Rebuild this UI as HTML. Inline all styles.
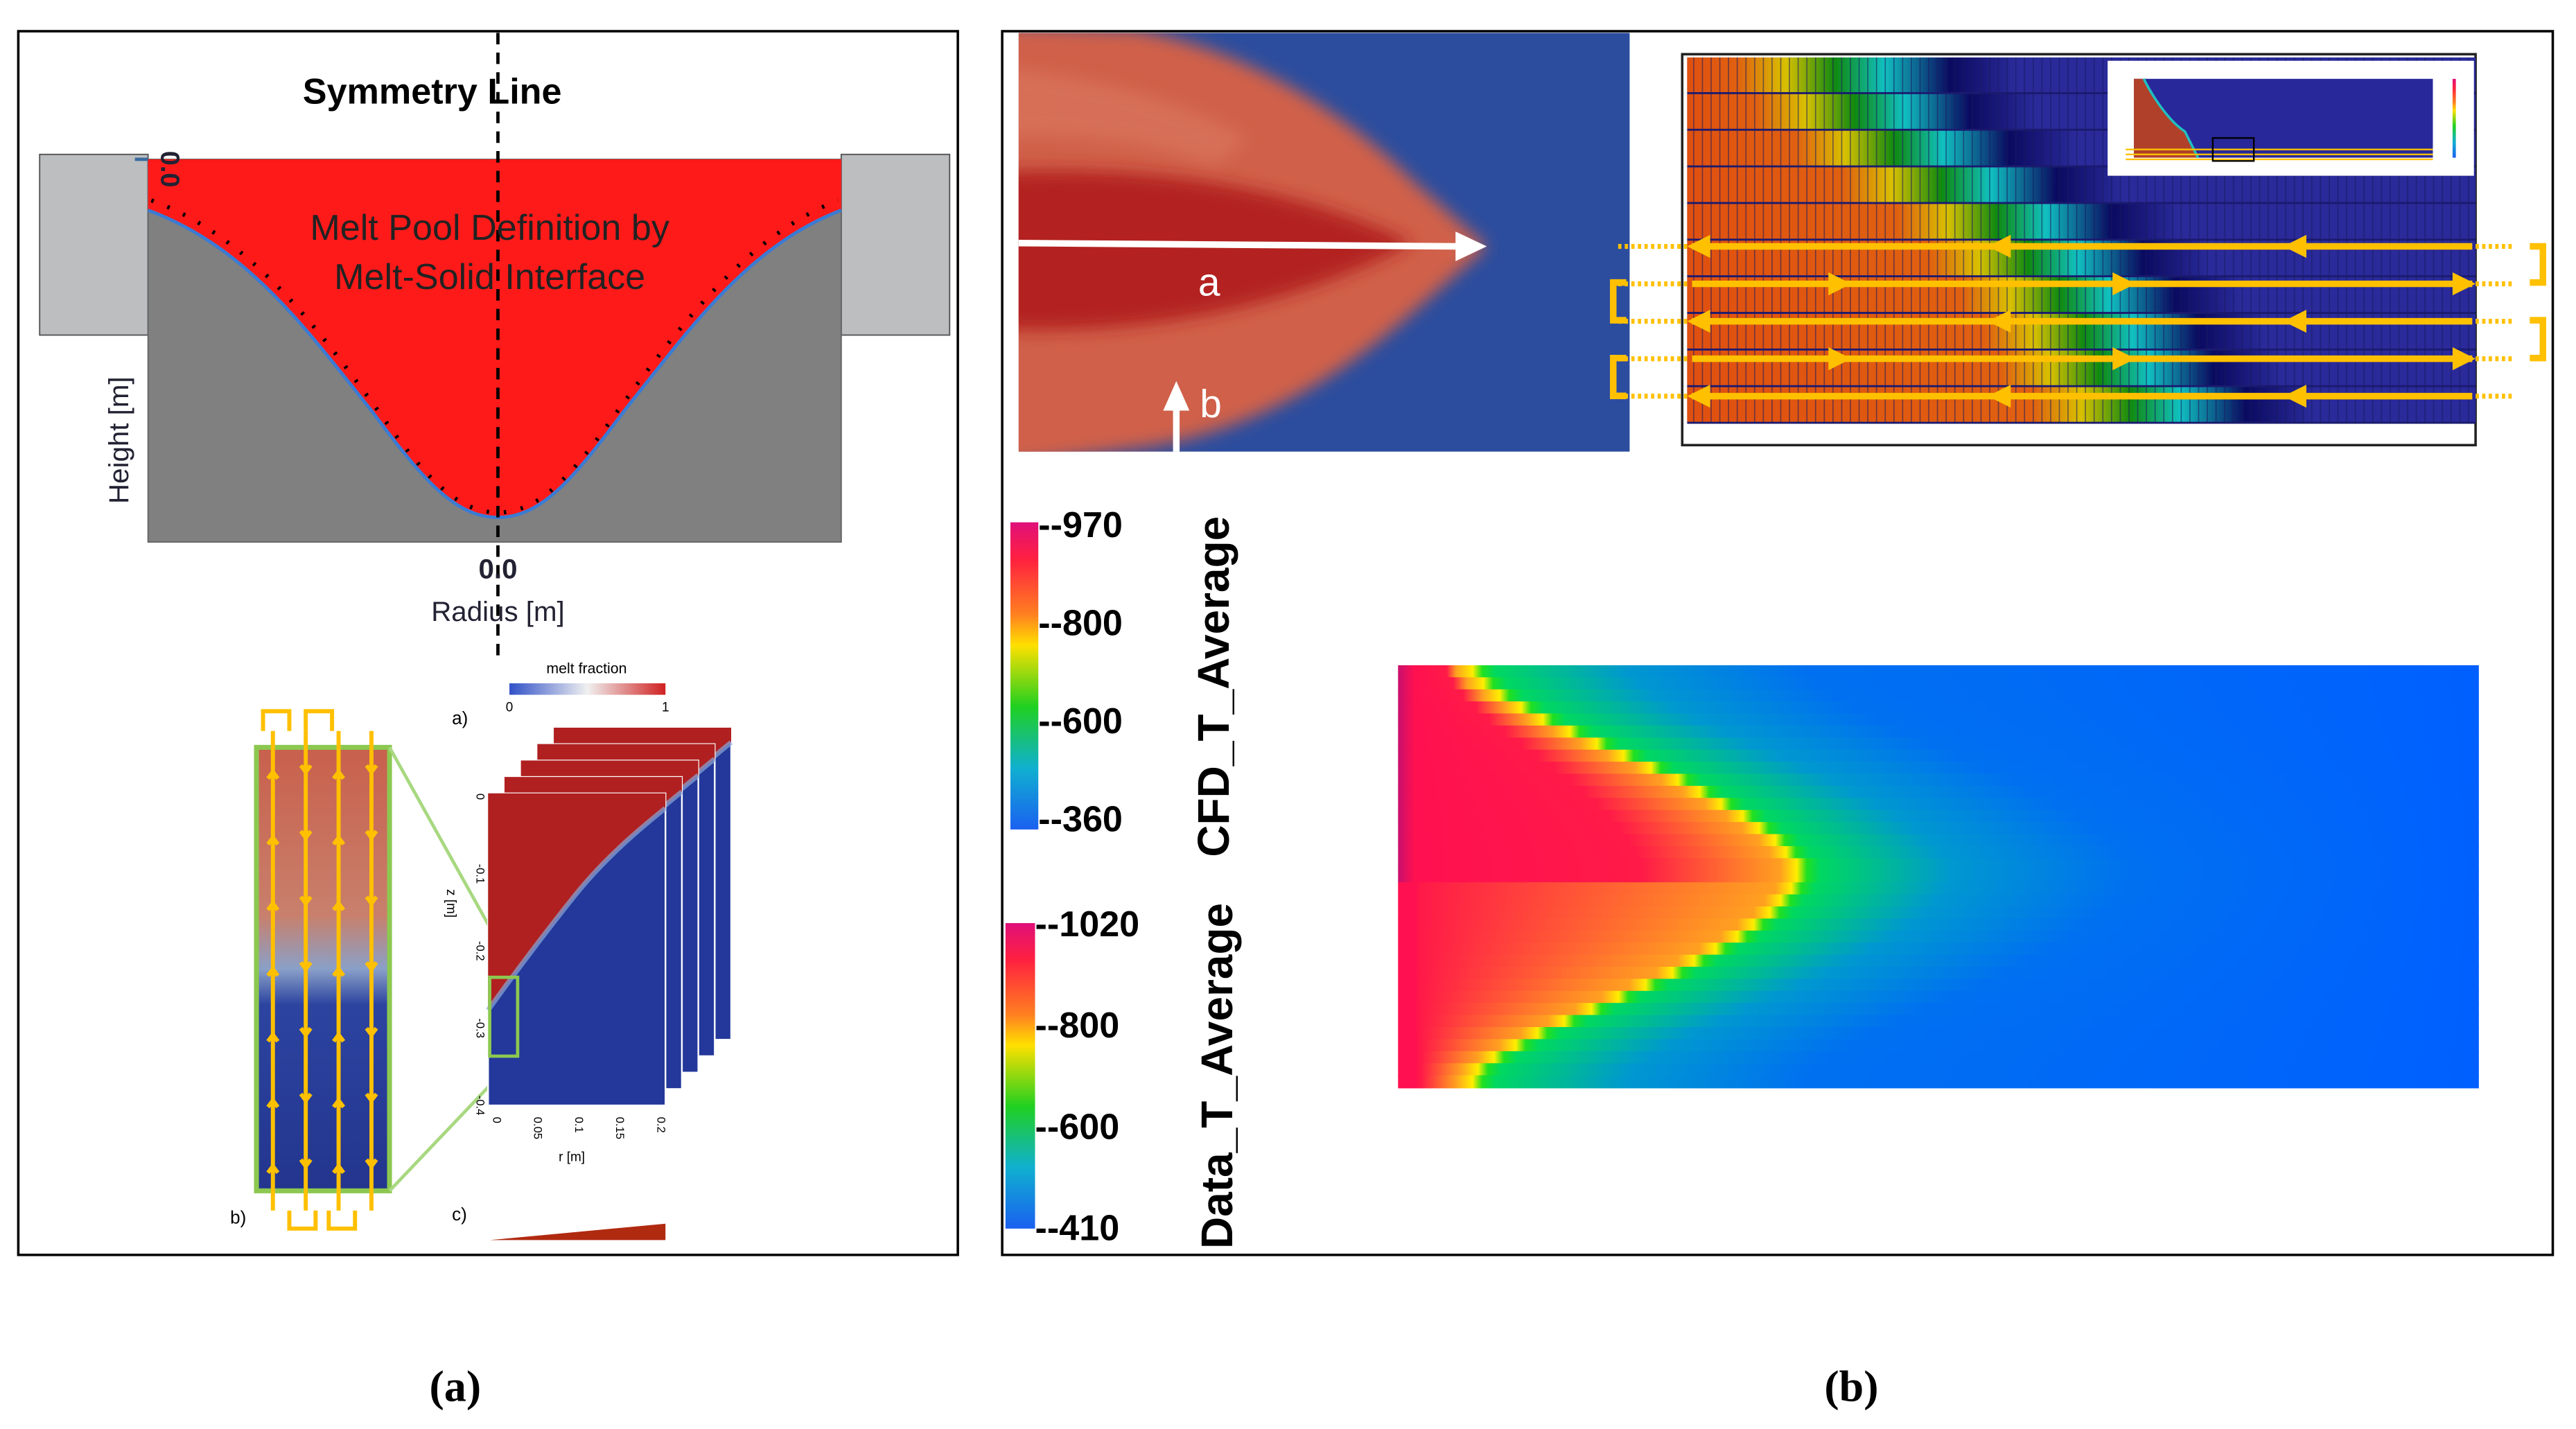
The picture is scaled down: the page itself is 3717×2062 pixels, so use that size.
<!DOCTYPE html>
<html><head><meta charset="utf-8">
<style>
html,body{margin:0;padding:0;background:#fff;}
svg{display:block;}
</style></head>
<body>
<svg id="fig" width="3717" height="2062" viewBox="0 0 1568 870" xmlns="http://www.w3.org/2000/svg" font-family="Liberation Sans, sans-serif">
<defs>
  <filter id="blur6" x="-20%" y="-20%" width="140%" height="140%"><feGaussianBlur stdDeviation="5"/></filter>
  <filter id="blur3"><feGaussianBlur stdDeviation="3"/></filter>
  <linearGradient id="cbar" x1="0" y1="0" x2="0" y2="1">
    <stop offset="0" stop-color="#e0107a"/><stop offset="0.12" stop-color="#ff2040"/>
    <stop offset="0.3" stop-color="#ff8020"/><stop offset="0.4" stop-color="#ffe000"/>
    <stop offset="0.6" stop-color="#20d020"/><stop offset="0.8" stop-color="#10b0d0"/>
    <stop offset="1" stop-color="#1a60f0"/>
  </linearGradient>
  <linearGradient id="strip" x1="0" y1="0" x2="0" y2="1">
    <stop offset="0" stop-color="#c8604c"/><stop offset="0.38" stop-color="#c8806c"/>
    <stop offset="0.5" stop-color="#8aa0c8"/><stop offset="0.58" stop-color="#2c44a0"/>
    <stop offset="1" stop-color="#23358e"/>
  </linearGradient>
</defs>

<!-- PANEL A -->
<g>
  <rect x="11" y="19" width="572" height="745" fill="#fff" stroke="#000" stroke-width="1.5"/>
  <rect x="24" y="94" width="66" height="110" fill="#bcbec0" stroke="#555" stroke-width="0.8"/>
  <rect x="512" y="94" width="66" height="110" fill="#bcbec0" stroke="#555" stroke-width="0.8"/>
  <rect x="90" y="97" width="422" height="233" fill="#808080" stroke="#666" stroke-width="0.8"/>
  <path d="M90,97 L512,97 L512,128 C455,150 420,200 380,250 C350,290 330,315 303,315 C276,315 256,290 226,250 C186,200 150,150 90,128 Z" fill="#ff1a1a"/>
  <path d="M90,128 C150,150 186,200 226,250 C256,290 276,315 303,315 C330,315 350,290 380,250 C420,200 455,150 512,128" fill="none" stroke="#3a7bd5" stroke-width="2"/>
  <path d="M92,122 C150,143 190,195 230,250 C258,290 278,312 303,312 C328,312 348,290 376,250 C416,195 456,143 510,122" fill="none" stroke="#000" stroke-width="2.5" stroke-dasharray="1.5 9"/>
  <line x1="303" y1="20" x2="303" y2="400" stroke="#000" stroke-width="2" stroke-dasharray="7 5"/>
  <text x="263" y="63" font-size="22" font-weight="bold" text-anchor="middle">Symmetry Line</text>
  <text x="298" y="146" font-size="22" text-anchor="middle" fill="#222">Melt Pool Definition by</text>
  <text x="298" y="176" font-size="22" text-anchor="middle" fill="#222">Melt-Solid Interface</text>
  <text transform="translate(78,268) rotate(-90)" font-size="17" text-anchor="middle" fill="#223">Height [m]</text>
  <text transform="translate(98,103) rotate(90)" font-size="16" font-weight="bold" text-anchor="middle" fill="#223">0.0</text>
  <line x1="82" y1="97" x2="90" y2="97" stroke="#3a6aa0" stroke-width="2"/>
  <text x="303" y="352" font-size="17" font-weight="bold" text-anchor="middle" fill="#223">0.0</text>
  <text x="303" y="378" font-size="17" text-anchor="middle" fill="#223">Radius [m]</text>

  <g>
    <rect x="156" y="455" width="81" height="270" fill="url(#strip)" stroke="#8cc850" stroke-width="3"/>
    <g stroke="#ffc000" stroke-width="2.5" fill="none" id="stripLines"></g>
    <g stroke="#ffc000" stroke-width="2.5" fill="none">
      <path d="M160,445 L160,433 L176,433 L176,445"/><path d="M186,445 L186,433 L202,433 L202,445"/>
      <path d="M176,737 L176,748 L192,748 L192,737"/><path d="M200,737 L200,748 L216,748 L216,737"/>
    </g>
    <line x1="237" y1="455" x2="315" y2="595" stroke="#a8d880" stroke-width="2"/>
    <line x1="237" y1="725" x2="315" y2="643" stroke="#a8d880" stroke-width="2"/>
  </g>
  <text x="140" y="745" font-size="11">b)</text>
  <text x="275" y="441" font-size="11">a)</text>
  <text x="275" y="743" font-size="11">c)</text>
  <g>
    <text x="357" y="410" font-size="9" text-anchor="middle">melt fraction</text>
    <defs><linearGradient id="mf" x1="0" x2="1"><stop offset="0" stop-color="#3050c8"/><stop offset="0.5" stop-color="#f0f0f0"/><stop offset="1" stop-color="#d02020"/></linearGradient></defs>
    <rect x="310" y="416" width="95" height="7" fill="url(#mf)"/>
    <text x="310" y="433" font-size="8" text-anchor="middle">0</text><text x="405" y="433" font-size="8" text-anchor="middle">1</text>
  </g>
  <g id="stack"></g>
  <path d="M298,755 L405,745 L405,755 Z" fill="#b02a10"/>
  <text x="277" y="853" font-size="27" font-weight="bold" text-anchor="middle" style="font-family:'Liberation Serif',serif">(a)</text>
</g>

<!-- PANEL B -->
<g>
  <rect x="610" y="19" width="944" height="745" fill="#fff" stroke="#000" stroke-width="1.5"/>
  <g>
    <svg x="620" y="20" width="372" height="255" viewBox="620 20 372 255" overflow="hidden">
      <rect x="620" y="20" width="372" height="255" fill="#2c4d9e"/>
      <path d="M600,15 L690,18 C760,30 820,70 860,110 C885,132 898,144 905,150 C898,157 885,168 860,190 C820,225 770,260 700,272 L600,285 Z" fill="#d0604a" filter="url(#blur6)"/>
      <path d="M600,105 C690,100 780,110 860,148 C780,190 690,205 600,200 Z" fill="#b01f1f" filter="url(#blur6)" opacity="0.9"/>
      <path d="M600,40 C660,45 720,60 760,85 L740,100 C690,85 650,80 600,85 Z" fill="#dc7a62" filter="url(#blur6)" opacity="0.6"/>
    </svg>
    <line x1="620" y1="148" x2="888" y2="150" stroke="#fff" stroke-width="4"/>
    <path d="M905,150 L886,141 L886,159 Z" fill="#fff"/>
    <line x1="716" y1="275" x2="716" y2="248" stroke="#fff" stroke-width="4"/>
    <path d="M716,232 L708,250 L724,250 Z" fill="#fff"/>
    <text x="736" y="180" font-size="24" fill="#fff" text-anchor="middle">a</text>
    <text x="737" y="254" font-size="24" fill="#fff" text-anchor="middle">b</text>
  </g>
  <g>
    <rect x="1024" y="33" width="483" height="238" fill="#fff" stroke="#222" stroke-width="1.5"/>
    <rect x="1027" y="35" width="480" height="223" fill="#1a1a70"/>
    <g id="gridRows"></g>
    <g id="gridCols" stroke="#1a1a60" stroke-width="0.7" opacity="0.55"></g>
    <g>
      <rect x="1283" y="37" width="223" height="70" fill="#fff"/>
      <rect x="1299" y="48" width="182" height="48" fill="#28289a"/>
      <path d="M1299,48 L1305,48 C1312,62 1322,75 1330,80 L1338,96 L1299,96 Z" fill="#b0402a"/>
      <path d="M1305,48 C1312,62 1322,75 1330,80 L1338,96" fill="none" stroke="#20c0c0" stroke-width="1.5"/>
      <g stroke="#ffc000" stroke-width="1"><line x1="1294" y1="91" x2="1481" y2="91"/><line x1="1294" y1="94" x2="1481" y2="94"/><line x1="1294" y1="97" x2="1481" y2="97"/></g>
      <rect x="1347" y="84" width="25" height="14" fill="none" stroke="#000" stroke-width="1"/>
      <rect x="1493" y="48" width="2" height="48" fill="url(#cbar)"/>
    </g>
    <g id="scanArrows"></g>
  </g>
  <g>
    <rect x="615" y="318" width="17" height="187" fill="url(#cbar)"/>
    <text transform="translate(748,418) rotate(-90)" font-size="27" font-weight="bold" text-anchor="middle">CFD_T_Average</text>
    <g id="cfdTicks" font-size="22" font-weight="bold"></g>
  </g>
  <g>
    <rect x="612" y="562" width="18" height="186" fill="url(#cbar)"/>
    <text transform="translate(750,655) rotate(-90)" font-size="27" font-weight="bold" text-anchor="middle">Data_T_Average</text>
    <g id="dataTicks" font-size="22" font-weight="bold"></g>
  </g>
  <g id="heatmap"></g>
  <text x="1127" y="853" font-size="27" font-weight="bold" text-anchor="middle" style="font-family:'Liberation Serif',serif">(b)</text>
</g>
</svg>

<script>
// ---- chart data ----
const cfdTickValues = [-970, -800, -600, -360];
const dataTickValues = [-1020, -800, -600, -410];
// heatmap: melt-front radius per row (percent of domain width), top to bottom
const heatRows = [7.5, 8.5, 10, 12, 14, 16.5, 19, 21.5, 24, 26.5, 28.5, 30.5, 32.5, 34, 35.5, 36.5, 37.5, 37.5, 37, 36, 35, 33.5, 32, 30, 28, 26, 23.5, 21, 18.5, 16, 13.5, 11.5, 9.5, 8, 7.5];
// scan grid: melt front (yellow) position per row, percent of image width
const gridFront = [12.5, 15, 20, 26, 33, 37, 41, 44, 46, 50];
const scanDirections = ['left', 'right', 'left', 'right', 'left'];

const NS = 'http://www.w3.org/2000/svg';
function mk(tag, attrs, parent) { const e = document.createElementNS(NS, tag); for (const k in attrs) e.setAttribute(k, attrs[k]); parent.appendChild(e); return e; }
const defs = document.querySelector('defs');

// colorbar ticks (labels evenly spaced along the bar)
function ticks(vals, g, x, y0, y1) {
  vals.forEach((v, i) => {
    const y = y0 + i / (vals.length - 1) * (y1 - y0);
    const t = mk('text', { x: x, y: y + 8 }, g);
    
    
    t.textContent = '-' + v;
  });
}
ticks(cfdTickValues, document.getElementById('cfdTicks'), 632, 319, 498);
ticks(dataTickValues, document.getElementById('dataTicks'), 630, 562, 747);

// heatmap
const hm = document.getElementById('heatmap');
const HX = 851, HY = 405, HW = 658, HH = 257;
const xScale = p => HX + p / 100 * HW;
const rowH = HH / heatRows.length;
heatRows.forEach((f, i) => {
  const fx = xScale(f);
  const id = 'hg' + i;
  const g = mk('linearGradient', { id: id, gradientUnits: 'userSpaceOnUse', x1: HX, x2: HX + HW, y1: 0, y2: 0 }, defs);
  const top = i < heatRows.length / 2;
  const st = (x, c) => mk('stop', { offset: Math.max(0, Math.min(1, (x - HX) / HW)), 'stop-color': c }, g);
  st(HX, top ? '#c8106e' : '#ff1050');
  st(HX + 10, '#ff1050');
  st(top ? HX + (fx - HX) * 0.6 : HX + 14, '#ff1a48');
  st(fx - 14, '#ffa020');
  st(fx - 4, '#ffee00');
  st(fx + 2, '#20e020');
  st(fx + 10, '#00d860');
  st(fx + 90, '#0098d0');
  st(fx + 200, '#0070f0');
  st(HX + HW, '#0060ff');
  const r = mk('rect', { x: HX, y: HY + i * rowH, width: HW, height: rowH + 0.6, fill: 'url(#' + id + ')' }, hm);
  
  
});

// scan grid
const gr = document.getElementById('gridRows');
const GX = 1027, GY = 35, GW = 480, GH = 223;
const gRowH = GH / gridFront.length;
const gx = p => GX + p / 100 * GW;
gridFront.forEach((f, i) => {
  const fx = gx(f);
  const id = 'gg' + i;
  const g = mk('linearGradient', { id: id, gradientUnits: 'userSpaceOnUse', x1: GX, x2: GX + GW, y1: 0, y2: 0 }, defs);
  const st = (x, c) => mk('stop', { offset: Math.max(0, Math.min(1, (x - GX) / GW)), 'stop-color': c }, g);
  st(GX, '#e05010'); st(fx - 30, '#e06010'); st(fx, '#d8c000');
  st(fx + 30, '#108a10'); st(fx + 60, '#10c0c0'); st(fx + 100, '#0a0a60'); st(fx + 140, '#2a2a9a'); st(GX + GW, '#2a2a9a');
  const r = mk('rect', { x: GX, y: GY + i * gRowH, width: GW, height: gRowH - 1.2, fill: 'url(#' + id + ')' }, gr);
  
  
});
const gc = document.getElementById('gridCols');
for (let x = GX + 4; x < GX + GW; x += 5.3) mk('line', { x1: x, y1: GY, x2: x, y2: GY + GH }, gc);

// scan arrows
const sa = document.getElementById('scanArrows');
scanDirections.forEach((d, i) => {
  const y = 150 + i * 22.8;
  mk('line', { x1: 1030, y1: y, x2: 1505, y2: y, stroke: '#ffc000', 'stroke-width': 4 }, sa);
  mk('line', { x1: 985, y1: y, x2: 1028, y2: y, stroke: '#ffc000', 'stroke-width': 3, 'stroke-dasharray': '2 2' }, sa);
  mk('line', { x1: 1507, y1: y, x2: 1530, y2: y, stroke: '#ffc000', 'stroke-width': 3, 'stroke-dasharray': '2 2' }, sa);
  const heads = d === 'left' ? [1027, 1210, 1390] : [1127, 1300, 1507];
  heads.forEach(hx => {
    const p = d === 'left' ? `M${hx},${y} L${hx + 14},${y - 7} L${hx + 14},${y + 7} Z` : `M${hx},${y} L${hx - 14},${y - 7} L${hx - 14},${y + 7} Z`;
    const a = mk('path', { d: p, fill: '#ffc000' }, sa);
    
    
  });
});
[[150, 172, 1548, 1540], [195, 218, 1548, 1540], [172, 195, 982, 990], [218, 241, 982, 990]].forEach(b => {
  mk('path', { d: `M${b[3]},${b[0]} L${b[2]},${b[0]} L${b[2]},${b[1]} L${b[3]},${b[1]}`, fill: 'none', stroke: '#ffc000', 'stroke-width': 4 }, sa);
});

// strip lines
const sl = document.getElementById('stripLines');
[166, 186, 206, 226].forEach((x, i) => {
  mk('line', { x1: x, y1: 445, x2: x, y2: 737 }, sl);
  for (let y = 470; y < 730; y += 40) {
    const dn = i % 2 === 1;
    mk('path', { d: dn ? `M${x - 3},${y - 4} L${x},${y} L${x + 3},${y - 4}` : `M${x - 3},${y + 4} L${x},${y} L${x + 3},${y + 4}` }, sl);
  }
});

// 3D stack
const stk = document.getElementById('stack');
for (let k = 4; k >= 0; k--) {
  const ox = k * 10, oy = -k * 10;
  const g = mk('g', { transform: `translate(${ox},${oy})` }, stk);
  
  
  mk('rect', { x: 297, y: 483, width: 108, height: 190, fill: '#23389a', stroke: '#fff', 'stroke-width': 1 }, g);
  mk('path', { d: 'M297,483 L405,483 L405,492 C395,500 370,520 350,545 C330,570 315,590 297,615 Z', fill: '#b02020' }, g);
  mk('path', { d: 'M405,492 C395,500 370,520 350,545 C330,570 315,590 297,615', fill: 'none', stroke: '#8aa8d8', 'stroke-width': 3, opacity: 0.7 }, g);
}
mk('rect', { x: 298, y: 595, width: 17, height: 48, fill: 'none', stroke: '#8cc850', 'stroke-width': 2 }, stk);
['0', '-0.1', '-0.2', '-0.3', '-0.4'].forEach((t, i) => {
  const e = mk('text', { transform: `translate(290,${485 + i * 47}) rotate(90)`, 'font-size': 7, 'text-anchor': 'middle' }, stk);
  e.textContent = t;
});
['0', '0.05', '0.1', '0.15', '0.2'].forEach((t, i) => {
  const e = mk('text', { transform: `translate(${300 + i * 25},680) rotate(90)`, 'font-size': 7 }, stk);
  e.textContent = t;
});
const zl = mk('text', { transform: 'translate(272,550) rotate(90)', 'font-size': 8, 'text-anchor': 'middle' }, stk); zl.textContent = 'z [m]';
const rl = mk('text', { x: 348, y: 707, 'font-size': 8, 'text-anchor': 'middle' }, stk); rl.textContent = 'r [m]';
</script>
</body></html>
